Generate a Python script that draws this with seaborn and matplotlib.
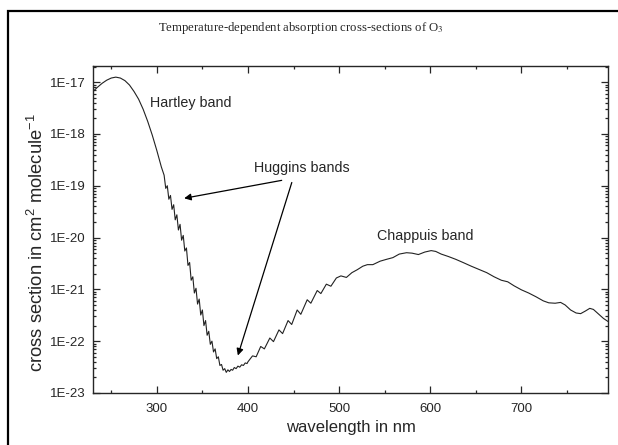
import numpy as np
import pandas as pd
import matplotlib
matplotlib.use('Agg')
import matplotlib.pyplot as plt
import matplotlib.ticker as mticker
from matplotlib.patches import Rectangle
import seaborn as sns

# ── DATA ──────────────────────────────────────
# Hartley band, smooth part
hartley_nm = [230, 235, 240, 245, 250, 255, 260, 265, 270, 275, 280, 285, 290, 295, 300, 305]
hartley_xs = [6.6e-18, 8.0e-18, 9.5e-18, 1.09e-17, 1.2e-17, 1.25e-17, 1.2e-17, 1.07e-17,
              8.8e-18, 6.6e-18, 4.7e-18, 3.0e-18, 1.75e-18, 9.5e-19, 4.8e-19, 2.3e-19]

# Huggins bands (structured part) down to the minimum
huggins_nm = [308.0, 309.8, 311.5, 313.2, 315.0, 316.7, 318.5, 320.2, 322.0, 323.7,
              325.5, 327.2, 329.0, 330.7, 332.5, 334.2, 336.0, 337.7, 339.5, 341.2,
              343.0, 344.7, 346.5, 348.2, 350.0, 351.7, 353.5, 355.2, 357.0, 358.7,
              360.5, 362.2, 364.0, 365.7, 367.5, 369.2, 371.0, 372.7, 374.5, 376.2,
              378.0, 379.7, 381.5, 383.2, 385.0, 387.0, 389.0, 391.0, 393.0, 395.0,
              397.0, 399.0]
huggins_xs = [1.6e-19, 8.9e-20, 1.0e-19, 5.5e-20, 6.5e-20, 3.5e-20, 4.3e-20, 2.2e-20, 2.75e-20, 1.4e-20,
              1.8e-20, 8.9e-21, 1.1e-20, 5.5e-21, 6.3e-21, 2.9e-21, 3.3e-21, 1.5e-21, 1.75e-21, 8.5e-22,
              1.05e-21, 5.2e-22, 6.5e-22, 3.2e-22, 4.0e-22, 2.0e-22, 2.5e-22, 1.3e-22, 1.55e-22, 8.7e-23,
              1.0e-22, 6.2e-23, 7.1e-23, 4.6e-23, 5.0e-23, 3.4e-23, 3.55e-23, 2.75e-23, 2.95e-23, 2.5e-23,
              2.8e-23, 2.6e-23, 2.85e-23, 2.75e-23, 3.1e-23, 2.95e-23, 3.3e-23, 3.15e-23, 3.5e-23, 3.4e-23,
              3.8e-23, 3.7e-23]

# Chappuis band
chappuis_nm = [400, 405, 409, 414, 418, 424, 428, 434, 438, 444, 448, 454, 458, 465, 469, 476, 480,
               486, 491, 497, 502, 508, 514, 520, 526, 531, 537, 545, 552, 559, 566, 574, 580, 587,
               594, 601, 606, 612, 620, 628, 636, 645, 654, 662, 670, 678, 685, 692, 700, 708, 716,
               724, 730, 737, 743, 748, 754, 760, 765, 770, 775, 779, 785, 790, 795]
chappuis_xs = [4.0e-23, 5.2e-23, 5.0e-23, 7.9e-23, 7.1e-23, 1.15e-22, 9.8e-23, 1.65e-22, 1.4e-22,
               2.5e-22, 2.1e-22, 4.0e-22, 3.3e-22, 6.3e-22, 5.4e-22, 9.5e-22, 8.3e-22,
               1.26e-21, 1.15e-21, 1.66e-21, 1.82e-21, 1.7e-21, 2.1e-21, 2.4e-21, 2.8e-21, 3.0e-21,
               3.0e-21, 3.5e-21, 3.8e-21, 4.1e-21, 4.8e-21, 5.1e-21, 5.0e-21, 4.7e-21,
               5.25e-21, 5.6e-21, 5.4e-21, 4.8e-21, 4.3e-21, 3.8e-21, 3.3e-21, 2.8e-21, 2.4e-21,
               2.1e-21, 1.75e-21, 1.5e-21, 1.4e-21, 1.17e-21, 9.8e-22, 8.5e-22, 7.2e-22,
               6.0e-22, 5.5e-22, 5.4e-22, 5.6e-22, 5.0e-22, 4.0e-22, 3.5e-22, 3.4e-22, 3.8e-22,
               4.3e-22, 4.1e-22, 3.3e-22, 2.75e-22, 2.4e-22]

ytick_vals = [1e-23, 1e-22, 1e-21, 1e-20, 1e-19, 1e-18, 1e-17]
ytick_labels = ['1E-23', '1E-22', '1E-21', '1E-20', '1E-19', '1E-18', '1E-17']
xtick_vals = [300, 400, 500, 600, 700]

df = pd.DataFrame({
    'wavelength': hartley_nm + huggins_nm + chappuis_nm,
    'cross_section': hartley_xs + huggins_xs + chappuis_xs,
})

# ── STYLE ────────────────────────────────────
sns.set_style('ticks')
plt.rcParams['font.family'] = ['Liberation Sans', 'DejaVu Sans']
plt.rcParams['mathtext.fontset'] = 'custom'
plt.rcParams['mathtext.rm'] = 'Liberation Sans'

fig = plt.figure(figsize=(6.18, 4.45), dpi=100)
ax = fig.add_axes([0.1505, 0.1169, 0.8333, 0.7348])

sns.lineplot(data=df, x='wavelength', y='cross_section', ax=ax, color='#222222',
             lw=0.8, estimator=None, sort=False)

ax.set_yscale('log')
ax.set_xlim(230, 795)
ax.set_ylim(1e-23, 2.05e-17)

ax.yaxis.set_major_locator(mticker.FixedLocator(ytick_vals))
ax.yaxis.set_major_formatter(mticker.FixedFormatter(ytick_labels))
ax.yaxis.set_minor_locator(mticker.LogLocator(base=10, subs=np.arange(2, 10)))
ax.yaxis.set_minor_formatter(mticker.NullFormatter())
ax.xaxis.set_major_locator(mticker.FixedLocator(xtick_vals))
ax.xaxis.set_minor_locator(mticker.MultipleLocator(50))

ax.tick_params(which='both', direction='in', top=True, right=True, labelsize=9.5, width=0.9)
ax.tick_params(which='major', length=5)
ax.tick_params(which='minor', length=2.5)
ax.tick_params(axis='x', which='major', pad=7)
ax.tick_params(axis='y', which='major', pad=5)
for s in ax.spines.values():
    s.set_linewidth(1.0)

ax.set_xlabel('wavelength in nm', fontsize=12, labelpad=4)
ax.set_ylabel('cross section in cm$^2$ molecule$^{-1}$', fontsize=13.2)
ax.yaxis.set_label_coords(-0.09, 0.459)

# ── ANNOTATIONS ──────────────────────────────
ax.text(292, 4.0e-18, 'Hartley band', fontsize=10.3, va='center', ha='left')
ax.text(407, 2.2e-19, 'Huggins bands', fontsize=10.3, va='center', ha='left')
ax.text(542, 1.07e-20, 'Chappuis band', fontsize=10.3, va='center', ha='left')
arrow = dict(arrowstyle='-|>', color='k', lw=0.9, mutation_scale=10)
ax.annotate('', xy=(327, 5.6e-20), xytext=(440, 1.3e-19), arrowprops=arrow)
ax.annotate('', xy=(388, 4.7e-23), xytext=(449, 1.3e-19), arrowprops=arrow)

# title and outer frame
fig.text(0.487, 0.938, 'Temperature-dependent absorption cross-sections of O$_3$',
         fontsize=9.2, ha='center', va='center', family='Liberation Serif',
         math_fontfamily='stix')
fig.add_artist(Rectangle((8 / 618, -0.05), 1.2, 1 - 11 / 445 + 0.05, transform=fig.transFigure,
                         fill=False, lw=1.6, ec='k'))

plt.savefig('out.png', dpi=100)
